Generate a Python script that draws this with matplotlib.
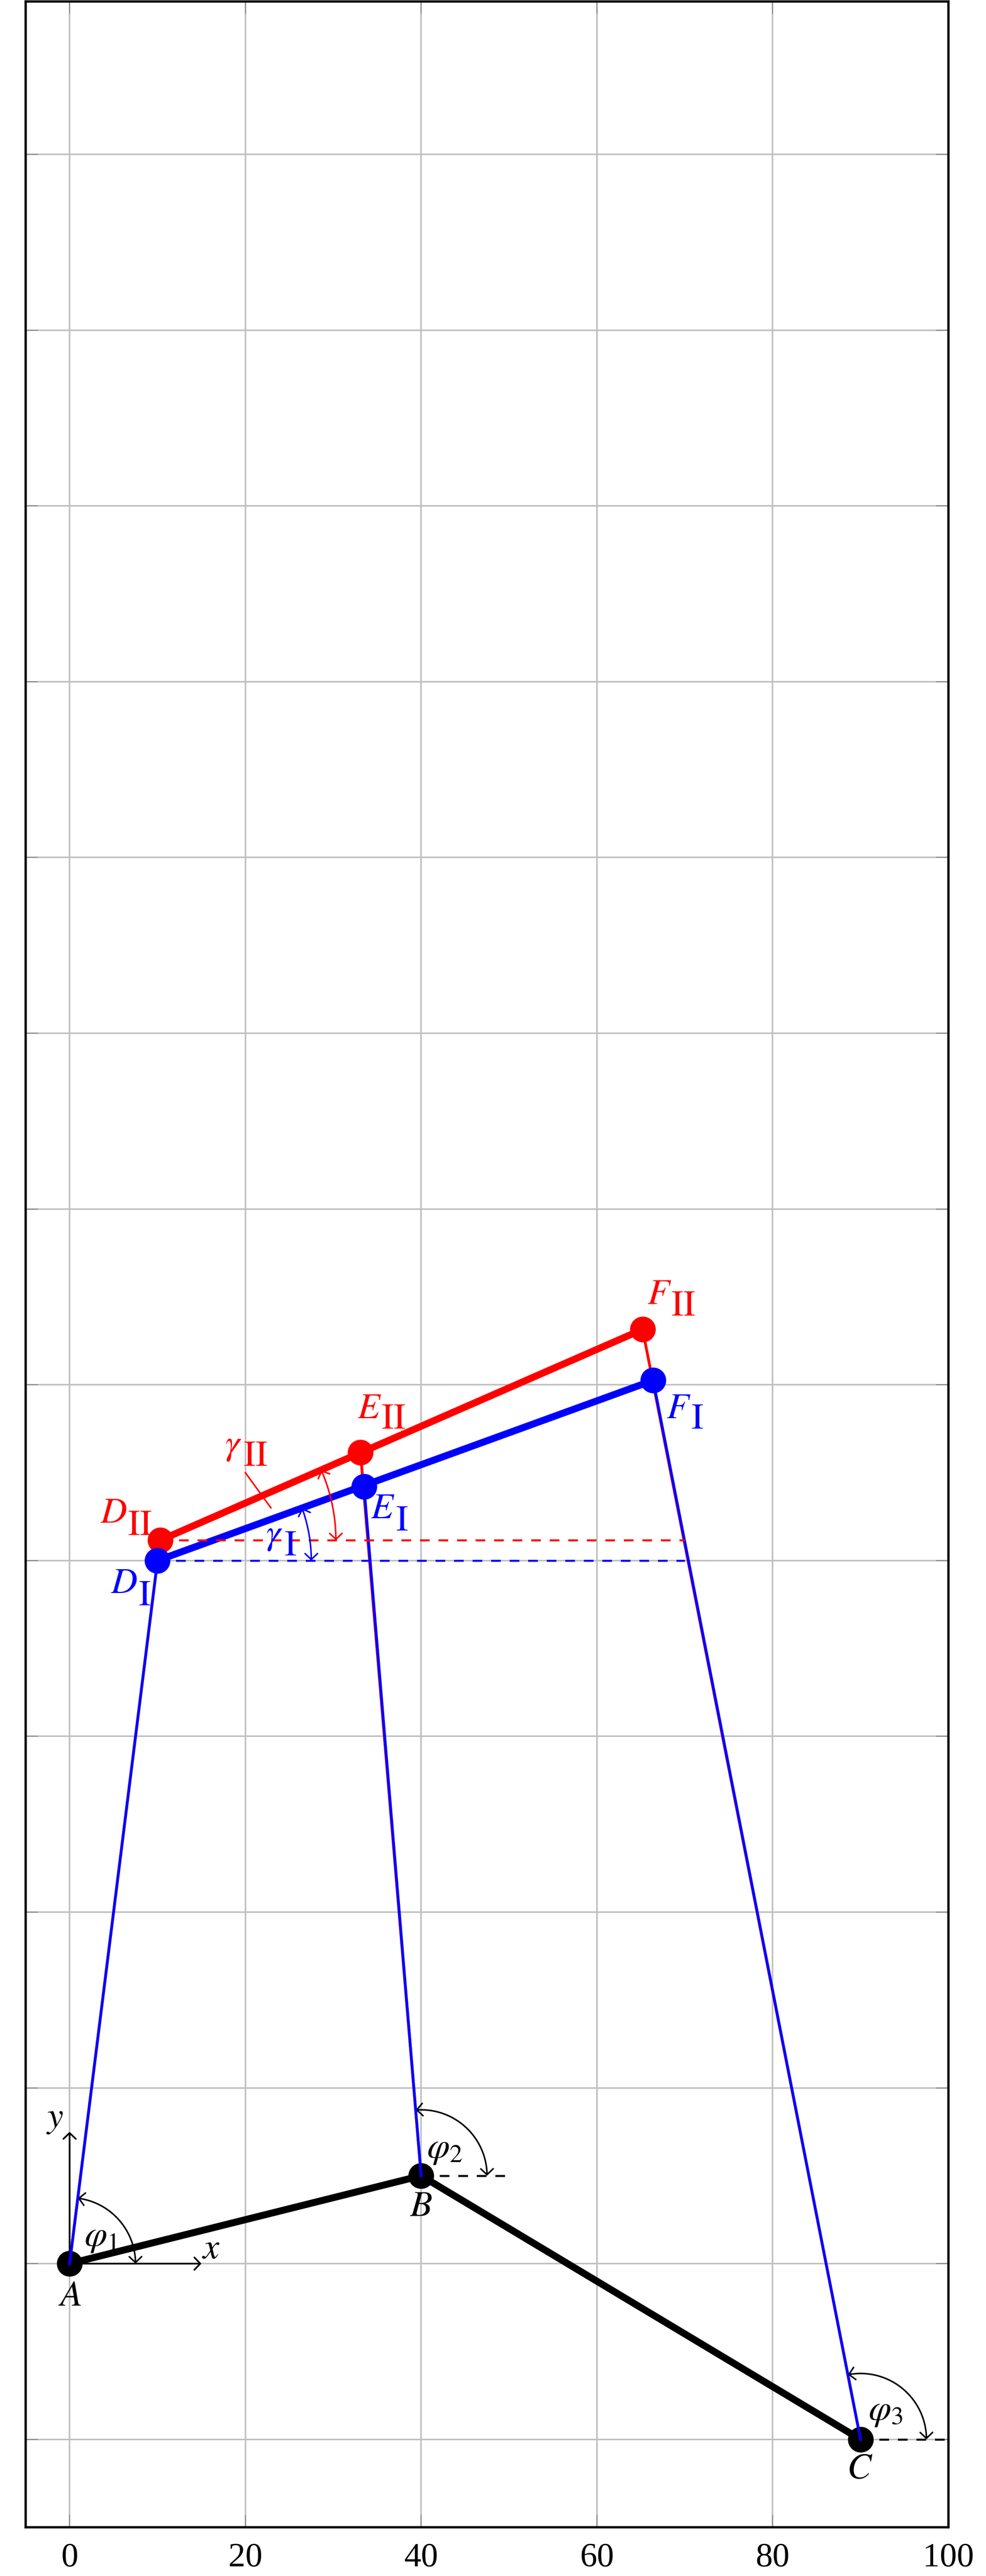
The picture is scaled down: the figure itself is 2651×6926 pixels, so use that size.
import numpy as np
import matplotlib
matplotlib.use('Agg')
import matplotlib.pyplot as plt
from matplotlib.patches import FancyArrowPatch
from matplotlib.path import Path

plt.rcParams['font.family'] = ['Liberation Serif', 'DejaVu Serif']
plt.rcParams['mathtext.fontset'] = 'stix'

# ---- data ----
ground_names = ['A', 'B', 'C']
ground_x = [0.0, 40.0, 90.0]
ground_y = [0.0, 10.0, -20.0]

# position I (blue): D, E, F
pos1_x = [10.0, 33.5, 66.4]
pos1_y = [80.0, 88.4, 100.5]
# position II (red): D, E, F
pos2_x = [10.3, 33.1, 65.2]
pos2_y = [82.3, 92.3, 106.3]

x_ticks = [0, 20, 40, 60, 80, 100]
y_ticks = [-20, 0, 20, 40, 60, 80, 100, 120, 140, 160, 180, 200, 220, 240]
x_lim = (-5, 100)
y_lim = (-30, 257.4)

W, H, DPI = 2651, 6926, 300
fig = plt.figure(figsize=(W / DPI, H / DPI), dpi=DPI)
ax = fig.add_axes([69 / W, (H - 6795) / H, 2481 / W, 6791 / H])
ax.set_xlim(*x_lim)
ax.set_ylim(*y_lim)
ax.set_xticks(x_ticks)
ax.set_yticks(y_ticks)
ax.set_xticklabels([str(t) for t in x_ticks])
ax.tick_params(axis='both', direction='in', length=8, width=0.5, color='0.5',
               top=True, right=True, labelleft=False, labelsize=22, pad=10)
ax.grid(True, color='#bfbfbf', lw=1.0, zorder=0)
ax.set_axisbelow(True)
for s in ax.spines.values():
    s.set_linewidth(1.5)

FS = 23.5
BLUE = '#0000ff'
RED = '#ff0000'
THICK = 4.5
THIN = 1.8
MS = 15.6
DASH = (4.8, 4.4)

def arc(cx, cy, r, a0, a1, color, lw=1.0, z=6):
    t = np.radians(np.linspace(a0, a1, 80))
    verts = np.column_stack([cx + r * np.cos(t), cy + r * np.sin(t)])
    p = FancyArrowPatch(path=Path(verts),
                        arrowstyle='<->,head_length=0.19,head_width=0.2',
                        mutation_scale=20, color=color, lw=lw,
                        shrinkA=0, shrinkB=0, zorder=z)
    ax.add_patch(p)

def ang(x0, y0, x1, y1):
    return np.degrees(np.arctan2(y1 - y0, x1 - x0))

# ground links (black)
ax.plot(ground_x, ground_y, color='black', lw=THICK, solid_capstyle='round', zorder=3)
ax.plot([ground_x[1], ground_x[1] + 10], [ground_y[1], ground_y[1]], color='black', lw=1.3,
        dashes=DASH, zorder=3.5)
ax.plot([ground_x[2], ground_x[2] + 10], [ground_y[2], ground_y[2]], color='black', lw=1.3,
        dashes=DASH, zorder=3.5)
ax.plot(ground_x, ground_y, 'o', color='black', ms=MS, zorder=4)

# red thin links (position II)
for i in range(3):
    ax.plot([ground_x[i], pos2_x[i]], [ground_y[i], pos2_y[i]], color=RED, lw=THIN, zorder=5)
# red coupler
ax.plot([pos2_x[0], pos2_x[2]], [pos2_y[0], pos2_y[2]], color=RED, lw=THICK, zorder=6)

# blue thin links (position I)
for i in range(3):
    ax.plot([ground_x[i], pos1_x[i]], [ground_y[i], pos1_y[i]], color=BLUE, lw=THIN, zorder=8)
ax.plot([pos1_x[0], pos1_x[2]], [pos1_y[0], pos1_y[2]], color=BLUE, lw=THICK, zorder=9)

# dashed horizontal reference lines
ax.plot([pos2_x[0], 70], [pos2_y[0], pos2_y[0]], color=RED, lw=1.3, dashes=DASH, zorder=9.5)
ax.plot([pos1_x[0], 70], [pos1_y[0], pos1_y[0]], color=BLUE, lw=1.3, dashes=DASH, zorder=9.5)

ax.plot(pos2_x, pos2_y, 'o', color=RED, ms=MS, zorder=9.7)
ax.plot(pos1_x, pos1_y, 'o', color=BLUE, ms=MS, zorder=10)

# coordinate axes at A
for dx, dy in [(15, 0), (0, 15)]:
    ax.add_patch(FancyArrowPatch((ground_x[0], ground_y[0]), (ground_x[0] + dx, ground_y[0] + dy),
                                 arrowstyle='->,head_length=0.19,head_width=0.2', mutation_scale=20,
                                 color='black', lw=1.1, shrinkA=0, shrinkB=0, zorder=2))

# angle arcs
arc(ground_x[0], ground_y[0], 7.5, 0, ang(ground_x[0], ground_y[0], pos1_x[0], pos1_y[0]), 'black')
arc(ground_x[1], ground_y[1], 7.5, 0, ang(ground_x[1], ground_y[1], pos1_x[1], pos1_y[1]), 'black')
arc(ground_x[2], ground_y[2], 7.5, 0, ang(ground_x[2], ground_y[2], pos1_x[2], pos1_y[2]), 'black')
arc(pos1_x[0], pos1_y[0], 17.5, 0, ang(pos1_x[0], pos1_y[0], pos1_x[2], pos1_y[2]), BLUE, z=12)
arc(pos2_x[0], pos2_y[0], 20.0, 0, ang(pos2_x[0], pos2_y[0], pos2_x[2], pos2_y[2]), RED, z=12)

# gamma_II leader line
ax.plot([20.0, 22.9], [90.0, 86.0], color=RED, lw=1.0, zorder=12)

# labels
def lab(x, y, s, c='black'):
    ax.text(x, y, s, color=c, fontsize=FS, ha='center', va='center', zorder=20)

def sublab(xm, ym, main, xs, ys, sub, c):
    ax.text(xm, ym, main, color=c, fontsize=FS, ha='center', va='baseline', zorder=20)
    ax.text(xs, ys, sub, color=c, fontsize=FS, ha='center', va='baseline', zorder=20)

lab(0, -3.8, '$A$')
lab(40, 6.4, '$B$')
lab(89.9, -23.4, '$C$')
lab(16.1, 1.6, '$x$')
lab(-1.7, 16.5, '$y$')
lab(3.6, 3.0, r'$\varphi_1$')
lab(42.7, 13.0, r'$\varphi_2$')
lab(92.85, -16.8, r'$\varphi_3$')

RII = r'$\mathrm{II}$'
RI = r'$\mathrm{I}$'
sublab(5.0, 84.3, '$D$', 8.0, 82.9, RII, RED)
sublab(6.2, 76.3, '$D$', 8.5, 74.9, RI, BLUE)
sublab(34.1, 96.2, '$E$', 36.85, 95.0, RII, RED)
sublab(35.65, 84.8, '$E$', 37.8, 83.4, RI, BLUE)
sublab(67.1, 109.2, '$F$', 69.8, 107.9, RII, RED)
sublab(69.3, 96.2, '$F$', 71.4, 95.0, RI, BLUE)
sublab(18.65, 92.1, r'$\gamma$', 21.15, 90.8, RII, RED)
sublab(23.3, 81.9, r'$\gamma$', 25.1, 80.6, RI, BLUE)

fig.savefig('out.png', dpi=DPI)
